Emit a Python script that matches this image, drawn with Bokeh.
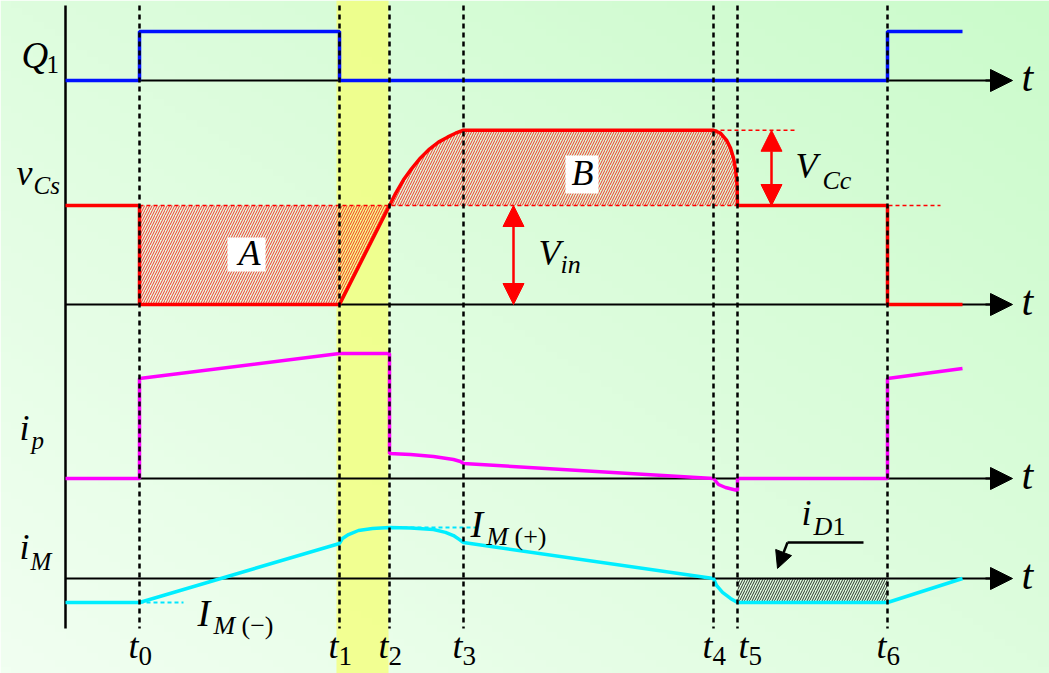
import numpy as np
from bokeh.plotting import figure
from bokeh.models import Range1d, Arrow, NormalHead
from bokeh.core.properties import value
from bokeh.embed import file_html
from bokeh.resources import INLINE

# ---------------------------------------------------------------
# Timing data (time measured from the vertical axis)
# ---------------------------------------------------------------
t_marks = [74, 274, 324, 398, 648, 672, 822]          # t0 .. t6
t_subs = ["0", "1", "2", "3", "4", "5", "6"]
t_end = 897

# Q1 gate drive (logic level)
q1_t = [0, 74, 74, 274, 274, 822, 822, 897]
q1_v = [0, 0, 1, 1, 0, 0, 1, 1]

# Clamp capacitor voltage v_Cs, in units of Vin (peak = Vin + VCc)
vcs_t = [0, 74, 74, 274, 324, 330, 338, 346, 355, 364, 373, 382, 390, 398,
         648, 655, 661, 665, 668, 670, 671.5, 672, 822, 822, 897]
vcs_v = [1.0, 1.0, 0.0, 0.0, 1.0, 1.12, 1.26, 1.37, 1.48, 1.57, 1.64, 1.69, 1.73, 1.76,
         1.76, 1.73, 1.66, 1.58, 1.48, 1.37, 1.22, 1.0, 1.0, 0.0, 0.0]
vin_level = 1.0
vcs_peak = 1.76

# Primary current i_p (normalised)
ip_t = [0, 74, 74, 274, 324, 324, 345, 368, 388, 395, 398, 648, 653, 660, 672, 672,
        822, 822, 897]
ip_v = [0, 0, 1.0, 1.25, 1.25, 0.25, 0.24, 0.22, 0.19, 0.17, 0.15, 0.0, -0.06, -0.09,
        -0.12, 0.0, 0.0, 1.0, 1.10]

# Magnetising current i_M (units of |I_M(-)|)
im_t = [0, 74, 274, 277, 283, 293, 307, 324, 345, 368, 380, 388, 394, 398,
        648, 651, 657, 665, 672, 822, 897]
im_v = [-1, -1, 1.46, 1.67, 1.83, 2.0, 2.08, 2.13, 2.10, 2.04, 1.92, 1.79, 1.62, 1.5,
        0.0, -0.29, -0.58, -0.83, -1.0, -1.0, 0.0]
im_pos = 2.13
im_neg = -1.0

# ---------------------------------------------------------------
# Page layout
# ---------------------------------------------------------------
W, H = 1049, 673
X0 = 65                     # pixel column of the vertical axis


def chan_range(base_px, unit_px):
    """Range placing value 0 at base_px (from the top), unit_px pixels per unit."""
    return Range1d(-(H - base_px) / unit_px, base_px / unit_px)


def top(px):
    return H - px


p = figure(width=W, height=H, output_backend="svg", toolbar_location=None,
           x_range=Range1d(-X0, W - X0), y_range=Range1d(0, H),
           x_axis_location=None, y_axis_location=None, min_border=0)
p.outline_line_color = None
p.grid.visible = False
p.border_fill_color = "#dcfcdc"

p.extra_y_ranges = {
    "q1": chan_range(80, 49),
    "vcs": chan_range(304, 99),
    "ip": chan_range(478, 100),
    "im": chan_range(578, 24),
}

# soft green background, lighter towards the lower left
n = 96
u = np.linspace(0, 1, n)[None, :]
v = np.linspace(0, 1, n)[:, None]
s = (u + v) / 2
light = np.array([241, 255, 241])
dark = np.array([203, 251, 203])
img = np.empty((n, n), dtype=np.uint32)
view = img.view(dtype=np.uint8).reshape((n, n, 4))
for k in range(3):
    view[:, :, k] = (light[k] + s * (dark[k] - light[k])).astype(np.uint8)
view[:, :, 3] = 255
p.image_rgba(image=[img], x=-X0, y=0, dw=W, dh=H)

# highlighted interval around t1..t2
p.quad(left=271, right=323, bottom=0, top=H, fill_color="#f4ff74", fill_alpha=0.75,
       line_color=None)

# hatched areas A and B
HATCH = dict(fill_alpha=0, line_color=None, hatch_pattern="/", hatch_scale=5,
             hatch_weight=0.8)
p.patch([74, 324, 274, 74], [vin_level, vin_level, 0, 0], y_range_name="vcs",
        hatch_color="red", **HATCH)
i2 = vcs_t.index(324)
i5 = vcs_t.index(672)
p.patch(vcs_t[i2:i5 + 1], vcs_v[i2:i5 + 1], y_range_name="vcs",
        hatch_color="red", **HATCH)

# diode current region
p.quad(left=t_marks[5], right=t_marks[6], bottom=im_neg, top=0, y_range_name="im",
       hatch_color="black", **HATCH)

# reference levels
p.line([74, 875], [vin_level, vin_level], y_range_name="vcs", line_color="red",
       line_width=1.6, line_dash="4 3")
p.line([648, 732], [vcs_peak, vcs_peak], y_range_name="vcs", line_color="red",
       line_width=1.6, line_dash="4 3")
p.line([74, 118], [im_neg, im_neg], y_range_name="im", line_color="#00e5ff",
       line_width=2, line_dash="4 3")
p.line([324, 415], [im_pos, im_pos], y_range_name="im", line_color="#00e5ff",
       line_width=2, line_dash="4 3")

# axes
p.line([0, 0], [top(5), top(628)], line_color="black", line_width=2.5)
for ch in ["q1", "vcs", "ip", "im"]:
    p.line([0, 930], [0, 0], y_range_name=ch, line_color="black", line_width=2)
    p.add_layout(Arrow(x_start=920, y_start=0, x_end=947, y_end=0, y_range_name=ch,
                       line_color="black", line_width=2,
                       end=NormalHead(size=22, fill_color="black", line_color="black")))

# waveforms
p.line(q1_t, q1_v, y_range_name="q1", line_color="#0011ff", line_width=3.5)
p.line(vcs_t, vcs_v, y_range_name="vcs", line_color="#ff0000", line_width=3.5)
p.line(ip_t, ip_v, y_range_name="ip", line_color="#ff00ff", line_width=3.5)
p.line(im_t, im_v, y_range_name="im", line_color="#00eeff", line_width=3.5)

# event markers
p.segment(x0=t_marks, y0=[top(5)] * 7, x1=t_marks, y1=[top(628)] * 7,
          line_color="black", line_width=2.5, line_dash="5 4")

# amplitude arrows
for y0, y1 in [(vin_level, 0), (vcs_peak, vin_level)]:
    xa = 448 if y1 == 0 else 706
    p.add_layout(Arrow(x_start=xa, y_start=y0, x_end=xa, y_end=y1, y_range_name="vcs",
                       line_color="red", line_width=2.5,
                       start=NormalHead(size=21, fill_color="red", line_color="red"),
                       end=NormalHead(size=21, fill_color="red", line_color="red")))

# i_D1 pointer
p.line([798, 722], [1.5, 1.5], y_range_name="im", line_color="black", line_width=2.5)
p.add_layout(Arrow(x_start=722, y_start=1.5, x_end=712, y_end=0.42, y_range_name="im",
                   line_color="black", line_width=2.5,
                   end=NormalHead(size=17, fill_color="black", line_color="black")))

# white boxes behind area names
p.quad(left=[162, 500], right=[200, 533], bottom=[top(271), top(193)],
       top=[top(237), top(155)], fill_color="white", line_color=None)

FONT = "Liberation Serif"
BASE_SHIFT = 0.38     # svg text sits this fraction of the size below its anchor


def txt(x_px, base_px, text, size, style="italic", align="left"):
    p.text(x=[x_px - X0], y=[top(base_px - BASE_SHIFT * size)], text=[text],
           text_font=value(FONT), text_font_size=value(f"{size}px"),
           text_font_style=value(style), text_align=value(align),
           text_baseline=value("alphabetic"), text_color="black")


# signal names
txt(21, 69, "Q", 37)
txt(46, 73, "1", 25, "normal")
txt(16, 186, "v", 36)
txt(33, 194, "Cs", 25)
txt(19, 441, "i", 36)
txt(31, 449, "p", 25)
txt(19, 560, "i", 36)
txt(30, 570, "M", 25)

# time axes
for b in [80, 304, 478, 578]:
    txt(1021, b + 12, "t", 42)

for tm, sub in zip(t_marks, t_subs):
    shift = 12 if sub == "5" else 0
    txt(tm + X0 - 11 + shift, 659, "t", 36)
    txt(tm + X0 - 1 + shift, 666, sub, 27, "normal")

# area names and amplitudes
txt(249, 266, "A", 36, align="center")
txt(582, 186, "B", 36, align="center")
txt(538, 266, "V", 36)
txt(560, 274, "in", 26)
txt(795, 179, "V", 36)
txt(822, 190, "Cc", 26)

# magnetising current levels
txt(470, 538, "I", 38)
txt(486, 546, "M", 26)
txt(514, 546, "(+)", 26, "normal")
txt(197, 627, "I", 38)
txt(213, 635, "M", 26)
txt(241, 635, "(\u2212)", 26, "normal")

# diode current
txt(801, 526, "i", 36)
txt(813, 536, "D", 26)
txt(832, 536, "1", 26, "normal")

open("out.html", "w").write(file_html(p, INLINE))
